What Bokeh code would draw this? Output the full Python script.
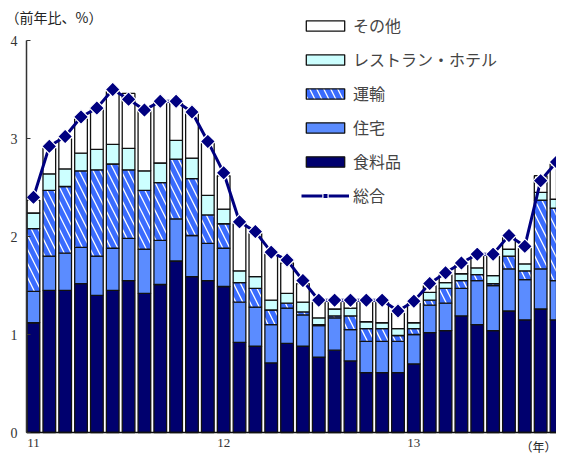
import numpy as np
from bokeh.plotting import figure
from bokeh.models import ColumnDataSource, Legend, LegendItem, FixedTicker, Label, Range1d
from bokeh.embed import file_html
from bokeh.resources import INLINE

# Monthly contributions to CPI (y/y, %), 2011-01 .. 2013-10
months = list(range(34))
food = [1.12, 1.45, 1.45, 1.52, 1.40, 1.45, 1.55, 1.42, 1.51, 1.75, 1.59, 1.55,
        1.49, 0.92, 0.88, 0.71, 0.91, 0.88, 0.77, 0.84, 0.73, 0.61, 0.61, 0.61,
        0.70, 1.02, 1.04, 1.19, 1.10, 1.04, 1.24, 1.15, 1.26, 1.15]
housing = [0.32, 0.35, 0.38, 0.37, 0.40, 0.43, 0.43, 0.45, 0.45, 0.43, 0.42, 0.38,
           0.39, 0.41, 0.40, 0.39, 0.36, 0.32, 0.32, 0.33, 0.32, 0.32, 0.32, 0.32,
           0.30, 0.28, 0.28, 0.28, 0.45, 0.46, 0.43, 0.41, 0.41, 0.40]
transport = [0.64, 0.67, 0.68, 0.78, 0.88, 0.86, 0.70, 0.60, 0.59, 0.61, 0.58, 0.29,
             0.25, 0.20, 0.19, 0.15, 0.05, 0.03, 0.01, 0.02, 0.14, 0.13, 0.13, 0.06,
             0.06, 0.05, 0.15, 0.08, 0.06, 0.02, 0.13, 0.09, 0.70, 0.74]
resthotel = [0.16, 0.17, 0.18, 0.18, 0.21, 0.20, 0.22, 0.20, 0.20, 0.19, 0.21, 0.20,
             0.15, 0.12, 0.12, 0.10, 0.10, 0.10, 0.07, 0.07, 0.08, 0.07, 0.06, 0.07,
             0.06, 0.08, 0.06, 0.07, 0.07, 0.08, 0.07, 0.07, 0.08, 0.09]
other = [0.13, 0.26, 0.31, 0.35, 0.41, 0.54, 0.56, 0.61, 0.62, 0.38, 0.46, 0.53,
         0.34, 0.48, 0.44, 0.47, 0.31, 0.19, 0.16, 0.07, 0.06, 0.20, 0.21, 0.16,
         0.20, 0.07, 0.08, 0.09, 0.12, 0.20, 0.12, 0.16, 0.17, 0.36]
total = [2.40, 2.92, 3.02, 3.22, 3.31, 3.50, 3.40, 3.29, 3.38, 3.38, 3.27, 2.97,
         2.65, 2.15, 2.05, 1.84, 1.76, 1.55, 1.35, 1.35, 1.35, 1.35, 1.35, 1.24,
         1.34, 1.52, 1.63, 1.73, 1.82, 1.82, 2.01, 1.90, 2.57, 2.76]
year_ticks = [0, 12, 24]
year_labels = ["11", "12", "13"]
y_ticks = [0, 1, 2, 3, 4]

series = [food, housing, transport, resthotel, other]
names = ["食料品", "住宅", "運輸", "レストラン・ホテル", "その他"]
tops = np.cumsum(np.array(series), axis=0)
bottoms = np.vstack([np.zeros(len(months)), tops[:-1]])

JP = "Noto Sans CJK JP"
SERIF = "Liberation Serif"

W, H = 556, 454
X0, X1 = -0.44, 33.0          # plotting-area x extent (axis position / right edge)
px_x = (W - 26) / (X1 - X0)   # pixels per month
px_y = 98.0                   # pixels per percentage point
x_start = X0 - 26 / px_x
y_end = 4 + 40 / px_y
y_start = -(H - 432) / px_y

p = figure(width=W, height=H, output_backend="svg", toolbar_location=None,
           x_range=Range1d(x_start, X1), y_range=Range1d(y_start, y_end),
           min_border=0)
p.outline_line_color = None
p.xgrid.visible = False
p.ygrid.visible = False
p.background_fill_color = "white"

styles = [
    dict(fill_color="#00006e"),
    dict(fill_color="#5b8cff"),
    dict(fill_color="white", hatch_pattern="\\", hatch_color="#3a6cff",
         hatch_scale=14, hatch_weight=5),
    dict(fill_color="#ccffff"),
    dict(fill_color="white"),
]
renderers = {}
for name, b, t, st in zip(names, bottoms, tops, styles):
    src = ColumnDataSource(dict(x=months, bottom=b, top=t))
    r = p.vbar(x="x", bottom="bottom", top="top", width=0.8, source=src,
               line_color="#111111", line_width=1.3, **st)
    renderers[name] = r

lsrc = ColumnDataSource(dict(x=months, y=total))
rl = p.line(x="x", y="y", source=lsrc, line_color="#000080", line_width=3)
rm = p.scatter(x="x", y="y", source=lsrc, marker="square", angle=np.pi / 4,
               size=10.5, fill_color="#000080", line_color="white", line_width=1.2)

# axes drawn inside the frame at fixed locations
p.yaxis.fixed_location = X0
p.yaxis.bounds = (0, 4)
p.yaxis.ticker = FixedTicker(ticks=y_ticks)
p.yaxis.major_tick_in = 4
p.yaxis.major_tick_out = 0
p.yaxis.minor_tick_line_color = None
p.yaxis.axis_line_width = 1.5
p.yaxis.axis_line_color = "#333333"
p.yaxis.major_tick_line_color = "#333333"
p.yaxis.major_label_text_font = SERIF
p.yaxis.major_label_text_font_size = "14px"
p.yaxis.major_label_text_color = "#333333"
p.yaxis.major_label_standoff = 9

p.xaxis.fixed_location = 0
p.xaxis.bounds = (X0, X1)
p.xaxis.ticker = FixedTicker(ticks=year_ticks)
p.xaxis.major_label_overrides = {t: l for t, l in zip(year_ticks, year_labels)}
p.xaxis.major_tick_in = 0
p.xaxis.major_tick_out = 0
p.xaxis.minor_tick_line_color = None
p.xaxis.axis_line_width = 1.5
p.xaxis.axis_line_color = "#111111"
p.xaxis.major_label_text_font = SERIF
p.xaxis.major_label_text_font_size = "13px"
p.xaxis.major_label_text_color = "#333333"
p.xaxis.major_label_standoff = 6

p.add_layout(Label(x=X0 - 21 / px_x, y=4 + 24 / px_y, text="（前年比、%）", text_font=JP,
                   text_font_size="14px", text_baseline="middle", text_align="left",
                   text_color="#222222"))
p.add_layout(Label(x=X1, y=-14 / px_y, text="（年）", text_font=JP,
                   text_font_size="12px", text_baseline="middle", text_align="right",
                   text_color="#222222"))

order = ["その他", "レストラン・ホテル", "運輸", "住宅", "食料品"]
items = [LegendItem(label=n, renderers=[renderers[n]]) for n in order]
items.append(LegendItem(label="総合", renderers=[rl, rm]))
legend = Legend(items=items, location=(301, 247), glyph_width=48, glyph_height=13,
                label_height=20, spacing=10, padding=0, margin=0,
                label_text_font=JP, label_text_font_size="16px",
                label_standoff=4, border_line_color=None, background_fill_alpha=0)
p.add_layout(legend, "center")

open("out.html", "w").write(file_html(p, INLINE))
